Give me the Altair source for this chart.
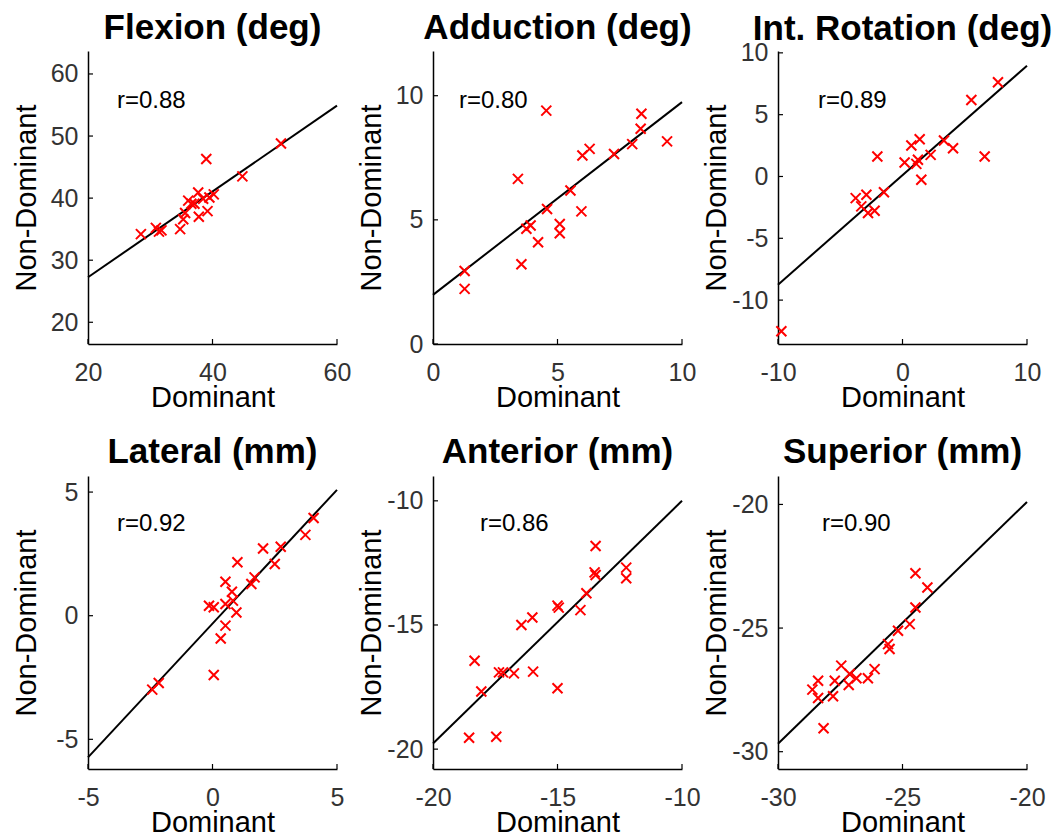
import altair as alt
import pandas as pd

# ---------------- data ----------------
titles = ["Flexion (deg)", "Adduction (deg)", "Int. Rotation (deg)",
          "Lateral (mm)", "Anterior (mm)", "Superior (mm)"]
r_labels = ["r=0.88", "r=0.80", "r=0.89", "r=0.92", "r=0.86", "r=0.90"]

flex_dom = [28.5, 30.9, 31.4, 31.8, 34.8, 35.3, 35.6, 36.1, 36.6, 37.1, 37.7, 37.8,
            38.5, 39.0, 39.2, 39.5, 40.2, 44.8, 51.0]
flex_non = [34.2, 35.2, 34.6, 34.8, 35.0, 36.6, 37.6, 39.6, 39.1, 39.1, 40.9, 37.0,
            39.9, 46.3, 37.9, 40.1, 40.6, 43.5, 48.8]

add_dom = [1.27, 1.27, 3.55, 3.41, 3.75, 3.92, 4.22, 4.55, 4.58, 5.09, 5.09, 5.52,
           5.96, 6.00, 6.29, 7.27, 8.00, 8.34, 8.37, 9.40]
add_non = [2.22, 2.94, 3.21, 6.65, 4.64, 4.77, 4.10, 9.40, 5.44, 4.83, 4.46, 6.18,
           5.34, 7.59, 7.86, 7.65, 8.05, 8.67, 9.27, 8.16]

rot_dom = [-9.73, -3.76, -3.31, -2.90, -2.77, -2.24, -2.02, -1.49, 0.17, 0.71, 1.11,
           1.38, 1.24, 1.51, 2.26, 3.33, 4.06, 5.53, 6.60, 7.67]
rot_non = [-12.52, -1.75, -2.42, -1.48, -2.96, -2.77, 1.62, -1.27, 1.13, 2.50, 1.02,
           3.01, 1.35, -0.27, 1.75, 2.91, 2.29, 6.19, 1.62, 7.62]

lat_dom = [-2.42, -2.16, 0.05, -0.14, 0.05, 0.33, 0.52, 0.52, 0.52, 0.78, 0.82, 0.96,
           1.00, 1.56, 1.69, 2.03, 2.50, 2.74, 3.73, 4.06]
lat_non = [-2.99, -2.72, -2.40, 0.40, 0.34, -0.92, -0.40, 1.37, 0.47, 0.97, 0.61, 0.13,
           2.16, 1.28, 1.55, 2.72, 2.09, 2.79, 3.27, 3.95]

ant_dom = [-18.55, -17.46, -18.33, -18.06, -17.35, -17.19, -16.75, -15.98, -15.00,
           -16.45, -16.01, -15.00, -14.95, -14.08, -13.84, -13.51, -13.47, -13.47,
           -12.24, -12.24]
ant_non = [-19.54, -19.50, -16.44, -17.68, -16.91, -16.91, -16.95, -16.88, -17.55,
           -15.00, -14.70, -14.22, -14.30, -14.40, -13.72, -12.88, -12.99, -11.82,
           -12.69, -13.12]

sup_dom = [-28.62, -28.39, -28.39, -28.17, -27.79, -27.72, -27.46, -27.16, -27.12,
           -26.85, -26.39, -26.12, -25.58, -25.52, -25.18, -24.71, -24.48, -24.48, -24.00]
sup_non = [-27.49, -27.13, -27.83, -29.05, -27.76, -27.13, -26.52, -27.30, -26.86,
           -27.03, -27.03, -26.66, -25.65, -25.85, -25.11, -24.84, -24.17, -22.78, -23.36]

# regression line: value of Non-Dominant at the left and right x-limits
fit_left = [27.25, 1.98, -8.75, -5.73, -19.77, -29.68]
fit_right = [54.9, 9.74, 8.96, 5.09, -10.0, -19.9]

x_limits = [[20, 60], [0, 10], [-10, 10], [-5, 5], [-20, -10], [-30, -20]]
y_limits = [[16.5, 63.7], [0, 11.8], [-13.55, 10.15], [-6.2, 5.65], [-20.8, -9.0], [-30.7, -18.85]]
x_ticks = [[20, 40, 60], [0, 5, 10], [-10, 0, 10], [-5, 0, 5], [-20, -15, -10], [-30, -25, -20]]
y_ticks = [[20, 30, 40, 50, 60], [0, 5, 10], [-10, -5, 0, 5, 10], [-5, 0, 5],
           [-20, -15, -10], [-30, -25, -20]]

dom_series = [flex_dom, add_dom, rot_dom, lat_dom, ant_dom, sup_dom]
non_series = [flex_non, add_non, rot_non, lat_non, ant_non, sup_non]

# ---------------- layout / style ----------------
W, H = 249, 293
FONT = "Liberation Sans"
r_pos = [(29, 57), (26, 57), (40, 57), (29, 55), (47, 55), (44, 55)]
title_offsets = [5, 5, -6, 6, 6, 6]
TICK_COLOR = "#333333"


def panel(i):
    xs = alt.Scale(domain=x_limits[i], nice=False, zero=False)
    ys = alt.Scale(domain=y_limits[i], nice=False, zero=False)
    xaxis = alt.Axis(values=x_ticks[i], title="Dominant", labelExpr="'' + datum.value",
                     titleX=W / 2, titleY=62)
    yaxis = alt.Axis(values=y_ticks[i], title="Non-Dominant", labelExpr="'' + datum.value",
                     titleX=-53, titleY=H / 2)
    X = alt.X("Dominant:Q", scale=xs, axis=xaxis)
    Y = alt.Y("NonDominant:Q", scale=ys, axis=yaxis)

    pts = pd.DataFrame({"Dominant": dom_series[i], "NonDominant": non_series[i]})
    fit = pd.DataFrame({"Dominant": x_limits[i], "NonDominant": [fit_left[i], fit_right[i]]})
    ytk = pd.DataFrame({"NonDominant": y_ticks[i]})
    xtk = pd.DataFrame({"Dominant": x_ticks[i]})

    line = alt.Chart(fit).mark_line(color="black", strokeWidth=2).encode(x=X, y=Y)
    points = alt.Chart(pts).mark_point(
        shape="M-1,-1L1,1M1,-1L-1,1", filled=False, color="#ff0000",
        strokeWidth=2, size=100, opacity=1,
    ).encode(x=X, y=Y)
    yt = alt.Chart(ytk).mark_rule(color="black", strokeWidth=1.2).encode(
        y=Y, x=alt.value(0), x2=alt.value(5))
    xt = alt.Chart(xtk).mark_rule(color="black", strokeWidth=1.2).encode(
        x=X, y=alt.value(H), y2=alt.value(H - 5))
    txt = alt.Chart(pd.DataFrame({"r": [r_labels[i]]})).mark_text(
        align="left", baseline="alphabetic", font=FONT, fontSize=24, color="black"
    ).encode(text="r:N", x=alt.value(r_pos[i][0]), y=alt.value(r_pos[i][1]))

    return alt.layer(line, points, yt, xt, txt).properties(
        width=W, height=H,
        title=alt.TitleParams(text=titles[i], font=FONT, fontSize=35,
                              fontWeight="bold", color="black", anchor="middle",
                              offset=title_offsets[i]),
    )


chart = alt.concat(*[panel(i) for i in range(6)], columns=3,
                   spacing={"row": 132, "column": 96}, bounds="flush").properties(
    padding={"left": 11, "top": 11, "right": 0, "bottom": 0},
    background="white",
).configure_view(stroke=None).configure_axis(
    grid=False, labelFont=FONT, labelFontSize=25, labelColor=TICK_COLOR,
    labelFlush=False, labelOverlap=False, ticks=False, tickSize=0,
    domainColor="black", domainWidth=1.5,
    titleFont=FONT, titleFontSize=29, titleFontWeight="normal", titleColor="black",
    titleBaseline="alphabetic", titleAlign="center",
).configure_axisX(labelPadding=16).configure_axisY(labelPadding=10, titleAngle=270)

chart.save("out.html", embed_options={"renderer": "svg", "actions": False})
